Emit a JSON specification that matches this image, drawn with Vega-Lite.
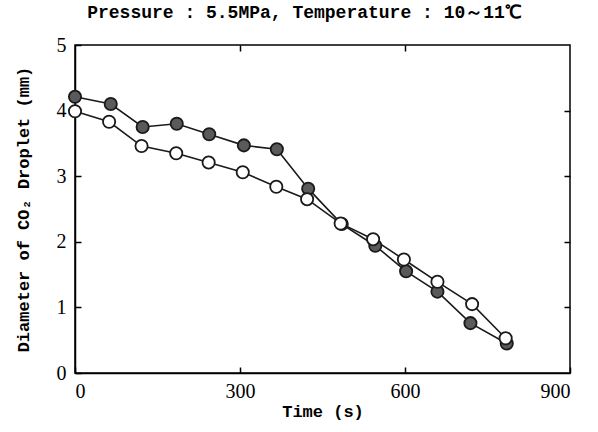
{
  "$schema": "https://vega.github.io/schema/vega-lite/v6.json",
  "width": 495,
  "height": 328,
  "autosize": {"type": "none"},
  "padding": {"left": 75, "top": 45, "right": 28, "bottom": 59},
  "background": "white",
  "title": {
    "text": "Pressure : 5.5MPa, Temperature : 10～11℃",
    "font": "Liberation Mono",
    "fontSize": 18,
    "fontWeight": "bold",
    "color": "black",
    "anchor": "middle",
    "dx": -18,
    "offset": 13
  },
  "config": {
    "view": {"stroke": "black", "strokeWidth": 1.5},
    "axis": {
      "domainColor": "black",
      "domainWidth": 1.5,
      "tickColor": "black",
      "tickWidth": 1.5,
      "tickSize": -6,
      "grid": false,
      "labelFont": "Liberation Serif",
      "labelFontSize": 20,
      "labelColor": "black",
      "titleFont": "Liberation Mono",
      "titleFontSize": 17,
      "titleFontWeight": "bold",
      "titleColor": "black"
    }
  },
  "data": {
    "values": [
      {"series": "filled", "time": 0, "diameter": 4.21},
      {"series": "filled", "time": 65, "diameter": 4.10},
      {"series": "filled", "time": 123, "diameter": 3.75},
      {"series": "filled", "time": 185, "diameter": 3.80},
      {"series": "filled", "time": 244, "diameter": 3.64},
      {"series": "filled", "time": 307, "diameter": 3.47},
      {"series": "filled", "time": 367, "diameter": 3.41},
      {"series": "filled", "time": 424, "diameter": 2.81},
      {"series": "filled", "time": 485, "diameter": 2.27},
      {"series": "filled", "time": 546, "diameter": 1.94},
      {"series": "filled", "time": 602, "diameter": 1.55},
      {"series": "filled", "time": 659, "diameter": 1.24},
      {"series": "filled", "time": 719, "diameter": 0.76},
      {"series": "filled", "time": 785, "diameter": 0.45},
      {"series": "open", "time": 0, "diameter": 3.99},
      {"series": "open", "time": 62, "diameter": 3.83},
      {"series": "open", "time": 121, "diameter": 3.46},
      {"series": "open", "time": 184, "diameter": 3.35},
      {"series": "open", "time": 243, "diameter": 3.21},
      {"series": "open", "time": 305, "diameter": 3.06},
      {"series": "open", "time": 366, "diameter": 2.84},
      {"series": "open", "time": 422, "diameter": 2.65},
      {"series": "open", "time": 483, "diameter": 2.28},
      {"series": "open", "time": 542, "diameter": 2.04},
      {"series": "open", "time": 598, "diameter": 1.73},
      {"series": "open", "time": 659, "diameter": 1.39},
      {"series": "open", "time": 722, "diameter": 1.05},
      {"series": "open", "time": 783, "diameter": 0.53}
    ]
  },
  "layer": [
    {
      "mark": {"type": "line", "color": "#1a1a1a", "strokeWidth": 1.6},
      "encoding": {
        "x": {
          "field": "time", "type": "quantitative",
          "scale": {"domain": [0, 900], "nice": false},
          "axis": {"orient": "bottom", "values": [0, 300, 600, 900], "title": "Time (s)", "labelPadding": 14, "titlePadding": 2}
        },
        "y": {
          "field": "diameter", "type": "quantitative",
          "scale": {"domain": [0, 5], "nice": false},
          "axis": {"orient": "left", "values": [0, 1, 2, 3, 4, 5], "title": "Diameter of CO₂ Droplet (mm)", "labelPadding": 15, "titlePadding": 24}
        },
        "detail": {"field": "series"}
      }
    },
    {
      "mark": {"type": "point", "filled": true, "shape": "circle", "size": 150, "stroke": "#1a1a1a", "strokeWidth": 1.8, "opacity": 1},
      "encoding": {
        "x": {
          "field": "time", "type": "quantitative",
          "scale": {"domain": [0, 900], "nice": false},
          "axis": {"orient": "top", "values": [300, 600], "labels": false, "title": null, "domain": false}
        },
        "y": {
          "field": "diameter", "type": "quantitative",
          "scale": {"domain": [0, 5], "nice": false},
          "axis": {"orient": "right", "values": [1, 2, 3, 4], "labels": false, "title": null, "domain": false}
        },
        "fill": {
          "field": "series", "type": "nominal",
          "scale": {"domain": ["filled", "open"], "range": ["#5a5a5a", "white"]},
          "legend": null
        }
      }
    }
  ],
  "resolve": {"axis": {"x": "independent", "y": "independent"}}
}
